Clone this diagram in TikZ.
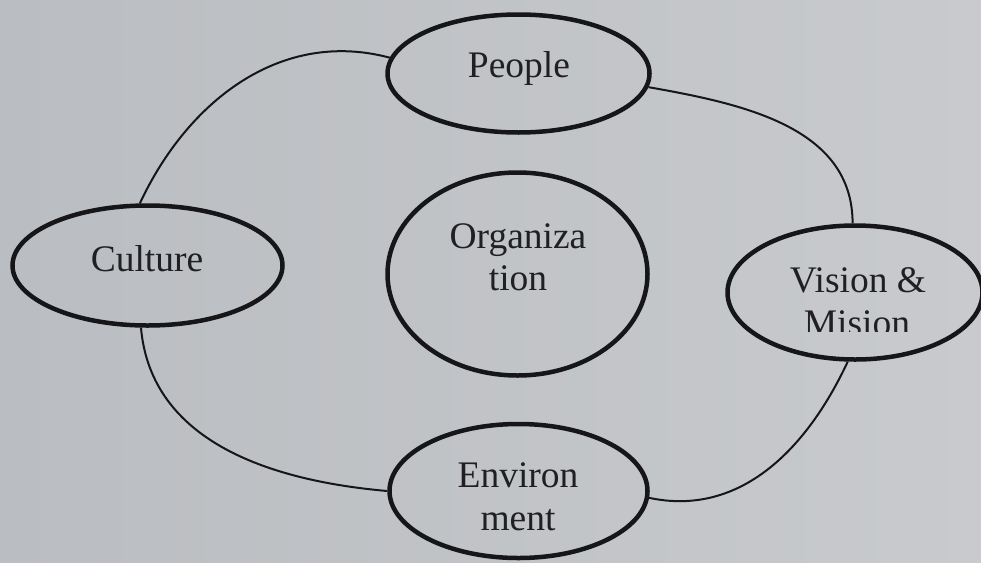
\documentclass[tikz,border=0pt]{standalone}
\usepackage{fontspec}
\setmainfont{Liberation Serif}
\usetikzlibrary{shapes.geometric}
\definecolor{bgl}{RGB}{186,189,193}
\definecolor{bgr}{RGB}{200,202,205}
\definecolor{ink}{RGB}{22,22,25}
\definecolor{txt}{RGB}{32,32,35}
\begin{document}
\begin{tikzpicture}[x=1pt,y=-1pt,
  oval/.style={ellipse, draw=ink, line width=4.5pt, inner sep=0pt},
  lbl/.style={anchor=base, font=\fontsize{37.5}{43}\selectfont, text=txt, inner sep=0pt},
  link/.style={draw=ink, line width=2pt}]
\useasboundingbox (0,0) rectangle (981,562);
\clip (0,0) rectangle (981,562);
\shade[left color=bgl, right color=bgr] (0,0) rectangle (981,562);

% ellipses
\node[oval, minimum width=262pt, minimum height=118pt] (people) at (518.5,73.5) {};
\node[oval, minimum width=270pt, minimum height=120pt] (culture) at (147.5,265.5) {};
\node[oval, minimum width=255pt, minimum height=134pt] (vision) at (855,292.5) {};
\node[oval, minimum width=258pt, minimum height=134pt] (environment) at (518.5,491) {};
\node[oval, minimum width=260pt, minimum height=203pt] (organization) at (517.5,274) {};

% labels
\node[lbl] (peoplet) at (519,77) {People};
\node[lbl] (culturet) at (147,271) {Culture};
\node[lbl] (visiont) at (858,292) {Vision \&};
\begin{scope}
  \clip (700,200) rectangle (981,331);
  \node[lbl] (visiont2) at (857,335) {Mision};
\end{scope}
\node[lbl] (orgt) at (518,248) {Organiza};
\node[lbl] (orgt2) at (518,290) {tion};
\node[lbl] (envt) at (518,487) {Environ};
\node[lbl] (envt2) at (518,530) {ment};

% connectors
\draw[link] (culture.97) to[out=65, in=165] (people.173);
\draw[link] (people.-6) to[out=-10, in=90] (vision.92);
\draw[link] (culture.264) to[out=275, in=175] (environment.180);
\draw[link] (vision.264) to[out=245, in=-12] (environment.-3);
\end{tikzpicture}
\end{document}
